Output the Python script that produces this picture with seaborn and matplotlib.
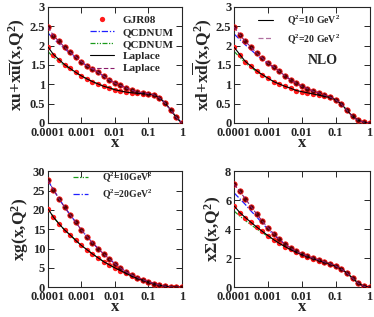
import numpy as np
import pandas as pd
import seaborn as sns
import matplotlib
matplotlib.use("Agg")
import matplotlib.pyplot as plt
from matplotlib.lines import Line2D
from matplotlib.ticker import FixedLocator, FixedFormatter, LogLocator, NullFormatter

# x grid of the GJR08 points
xs = [1.0e-4, 1.47e-4, 2.15e-4, 3.16e-4, 4.64e-4, 6.81e-4,
      1.0e-3, 1.47e-3, 2.15e-3, 3.16e-3, 4.64e-3, 6.81e-3,
      1.0e-2, 1.47e-2, 2.15e-2, 3.16e-2, 4.64e-2, 6.81e-2,
      0.1, 0.147, 0.215, 0.316, 0.464, 0.681, 1.0]

# xu + xubar
xu_10 = [1.97, 1.77, 1.64, 1.51, 1.41, 1.31, 1.22, 1.14, 1.07, 1.01, 0.95, 0.91, 0.86,
         0.83, 0.80, 0.78, 0.77, 0.76, 0.75, 0.73, 0.65, 0.52, 0.34, 0.15, 0.0]
xu_20 = [2.48, 2.26, 2.11, 1.96, 1.83, 1.71, 1.59, 1.48, 1.40, 1.31, 1.21, 1.12, 1.03,
         0.97, 0.91, 0.85, 0.80, 0.78, 0.76, 0.73, 0.65, 0.52, 0.34, 0.15, 0.0]
xu_10_qcd = [1.85, 1.70, 1.59, 1.48, 1.39, 1.30, 1.21, 1.14, 1.07, 1.01, 0.95, 0.91, 0.86,
             0.83, 0.80, 0.78, 0.77, 0.76, 0.75, 0.73, 0.65, 0.52, 0.34, 0.15, 0.0]
xu_20_qcd = [2.33, 2.18, 2.05, 1.92, 1.80, 1.69, 1.58, 1.48, 1.39, 1.31, 1.21, 1.12, 1.03,
             0.97, 0.91, 0.85, 0.80, 0.78, 0.76, 0.73, 0.65, 0.52, 0.34, 0.15, 0.0]

# xd + xdbar
xd_10 = [1.96, 1.77, 1.59, 1.47, 1.35, 1.25, 1.16, 1.07, 1.01, 0.95, 0.90, 0.84, 0.81,
         0.78, 0.75, 0.72, 0.69, 0.66, 0.60, 0.49, 0.33, 0.17, 0.07, 0.02, 0.0]
xd_20 = [2.48, 2.28, 2.11, 1.96, 1.81, 1.68, 1.55, 1.45, 1.34, 1.22, 1.12, 1.03, 0.95,
         0.89, 0.82, 0.78, 0.72, 0.67, 0.60, 0.49, 0.33, 0.17, 0.07, 0.02, 0.0]
xd_10_qcd = [1.85, 1.70, 1.55, 1.44, 1.33, 1.24, 1.16, 1.07, 1.01, 0.95, 0.90, 0.84, 0.81,
             0.78, 0.75, 0.72, 0.69, 0.66, 0.60, 0.49, 0.33, 0.17, 0.07, 0.02, 0.0]
xd_20_qcd = [2.30, 2.16, 2.02, 1.89, 1.76, 1.64, 1.53, 1.44, 1.34, 1.22, 1.12, 1.03, 0.95,
             0.89, 0.82, 0.78, 0.72, 0.67, 0.60, 0.49, 0.33, 0.17, 0.07, 0.02, 0.0]

# xg
xg_10 = [20.3, 18.1, 16.4, 14.8, 13.5, 12.1, 10.8, 9.7, 8.6, 7.6, 6.6, 5.8, 5.0,
         4.3, 3.6, 2.9, 2.3, 1.8, 1.3, 0.86, 0.5, 0.26, 0.09, 0.02, 0.0]
xg_20 = [27.6, 25.2, 22.9, 20.7, 18.7, 16.8, 14.8, 13.1, 11.5, 10.0, 8.6, 7.3, 6.1,
         5.0, 4.0, 3.2, 2.5, 1.95, 1.4, 0.95, 0.55, 0.27, 0.09, 0.02, 0.0]

# x Sigma
xs_10 = [5.6, 5.15, 4.8, 4.47, 4.15, 3.85, 3.56, 3.28, 3.03, 2.8, 2.6, 2.42, 2.25,
         2.1, 1.96, 1.84, 1.72, 1.6, 1.44, 1.25, 0.98, 0.62, 0.28, 0.06, 0.0]
xs_20 = [7.1, 6.6, 6.1, 5.55, 5.05, 4.55, 4.1, 3.7, 3.3, 2.97, 2.7, 2.47, 2.3,
         2.14, 2.0, 1.88, 1.75, 1.62, 1.46, 1.25, 0.98, 0.62, 0.28, 0.06, 0.0]
xs_10_qcd = [5.25, 4.9, 4.6, 4.3, 4.03, 3.77, 3.5, 3.25, 3.03, 2.8, 2.6, 2.42, 2.25,
             2.1, 1.96, 1.84, 1.72, 1.6, 1.44, 1.25, 0.98, 0.62, 0.28, 0.06, 0.0]
xs_20_qcd = [6.5, 6.1, 5.7, 5.25, 4.85, 4.4, 4.0, 3.63, 3.27, 2.97, 2.7, 2.47, 2.3,
             2.14, 2.0, 1.88, 1.75, 1.62, 1.46, 1.25, 0.98, 0.62, 0.28, 0.06, 0.0]

xticks = [1e-4, 1e-3, 1e-2, 1e-1, 1]
xtick_labels = ["0.0001", "0.001", "0.01", "0.1", "1"]

sns.set_style("ticks")
plt.rcParams["font.family"] = ["Liberation Serif", "DejaVu Serif"]
plt.rcParams["font.weight"] = "bold"
plt.rcParams["mathtext.fontset"] = "custom"
plt.rcParams["mathtext.rm"] = "Liberation Serif:bold"
plt.rcParams["mathtext.it"] = "Liberation Serif:bold"
plt.rcParams["mathtext.bf"] = "Liberation Serif:bold"

BLUE = "#1f1fff"
GREEN = "#1a9a1a"
PURPLE = "#8a1a6a"
RED = "#ff1a1a"
DASHDOT = (0, (5, 1.5, 1, 1.5))
DASHDOTDOT = (0, (4, 1.2, 1, 1.2, 1, 1.2))
DASHED = (0, (4, 2))

fig = plt.figure(figsize=(3.74, 3.17), dpi=100)
pos = {
    "tl": [0.128, 0.612, 0.358, 0.366],
    "tr": [0.626, 0.612, 0.362, 0.366],
    "bl": [0.128, 0.094, 0.358, 0.366],
    "br": [0.626, 0.094, 0.362, 0.366],
}

panels = [
    ("tl", xu_10, xu_20, xu_10_qcd, xu_20_qcd, 3, 0.5, r"$\mathrm{xu{+}x\overline{u}(x{,}Q^2)}$"),
    ("tr", xd_10, xd_20, xd_10_qcd, xd_20_qcd, 3, 0.5, r"$\mathrm{xd{+}x\overline{d}(x{,}Q^2)}$"),
    ("bl", xg_10, xg_20, xg_10, xg_20, 30, 5, r"$\mathrm{xg(x{,}Q^2)}$"),
    ("br", xs_10, xs_20, xs_10_qcd, xs_20_qcd, 8, 2, r"$\mathrm{x\Sigma(x{,}Q^2)}$"),
]

axes = {}
for key, lo, hi, lo_q, hi_q, ymax, ystep, ylab in panels:
    ax = fig.add_axes(pos[key])
    axes[key] = ax
    df = pd.DataFrame({"x": xs, "lo": lo, "hi": hi, "lo_q": lo_q, "hi_q": hi_q})

    sns.lineplot(data=df, x="x", y="hi_q", ax=ax, color=BLUE, lw=0.9, linestyle=DASHDOT)
    sns.lineplot(data=df, x="x", y="lo_q", ax=ax, color=GREEN, lw=0.9, linestyle=DASHDOTDOT)
    sns.scatterplot(data=df, x="x", y="lo", ax=ax, color=RED, s=15, linewidth=0, zorder=3)
    sns.scatterplot(data=df, x="x", y="hi", ax=ax, color="#5a0000", edgecolor=RED,
                    s=15, linewidth=0.6, zorder=3)
    sns.lineplot(data=df, x="x", y="lo", ax=ax, color="black", lw=0.8, zorder=4)
    sns.lineplot(data=df, x="x", y="hi", ax=ax, color=PURPLE, lw=0.8, linestyle=DASHED, zorder=4)

    ax.set_xscale("log")
    ax.set_xlim(1e-4, 1)
    ax.set_ylim(0, ymax)
    ax.xaxis.set_major_locator(FixedLocator(xticks))
    ax.xaxis.set_major_formatter(FixedFormatter(xtick_labels))
    ax.xaxis.set_minor_locator(LogLocator(base=10, subs=np.arange(2, 10)))
    ax.xaxis.set_minor_formatter(NullFormatter())
    yt = np.arange(0, ymax + ystep / 2, ystep)
    ax.set_yticks(yt)
    ax.set_yticklabels([("%g" % v) for v in yt])
    ax.tick_params(which="both", direction="in", top=True, right=True, labelsize=9,
                   width=0.7)
    ax.tick_params(axis="x", pad=3)
    ax.tick_params(axis="y", pad=2)
    ax.tick_params(which="major", length=4)
    ax.tick_params(which="minor", length=2)
    for lab in ax.get_xticklabels() + ax.get_yticklabels():
        lab.set_fontweight("bold")
    for sp in ax.spines.values():
        sp.set_linewidth(0.8)
    ax.set_xlabel("x", fontsize=12, fontweight="bold", labelpad=-3)
    ax.set_ylabel(ylab, fontsize=12.5, labelpad=1)
    if ax.get_legend() is not None:
        ax.get_legend().remove()

# legends
h_tl = [
    Line2D([], [], marker="o", color=RED, ls="none", markersize=3.8, markeredgewidth=0),
    Line2D([], [], color=BLUE, lw=0.9, ls=DASHDOT),
    Line2D([], [], color=GREEN, lw=0.9, ls=DASHDOTDOT),
    Line2D([], [], color="black", lw=0.8),
    Line2D([], [], color=PURPLE, lw=0.8, ls=DASHED),
]
axes["tl"].legend(h_tl, ["GJR08", "QCDNUM", "QCDNUM", "Laplace", "Laplace"],
                  loc="upper right", frameon=False, fontsize=8, handlelength=2.2,
                  labelspacing=0.22, borderaxespad=0.3, handletextpad=0.8)

h_tr = [Line2D([], [], color="black", lw=0.8),
        Line2D([], [], color="#b070a0", lw=0.9, ls=DASHED)]
axes["tr"].legend(h_tr, [r"Q$^2$=10 GeV$^2$", r"Q$^2$=20 GeV$^2$"],
                  loc="upper left", bbox_to_anchor=(0.15, 0.98), borderaxespad=0,
                  frameon=False, fontsize=7, handlelength=1.5,
                  labelspacing=0.45, handletextpad=1.5)
axes["tr"].text(0.655, 0.54, "NLO", transform=axes["tr"].transAxes, fontsize=10,
                fontweight="bold", ha="center", va="center")

h_bl = [Line2D([], [], color=GREEN, lw=0.9, ls=DASHDOTDOT),
        Line2D([], [], color=BLUE, lw=0.9, ls=DASHDOT)]
axes["bl"].legend(h_bl, [r"Q$^2$=10GeV$^2$", r"Q$^2$=20GeV$^2$"],
                  loc="upper left", bbox_to_anchor=(0.16, 1.04), borderaxespad=0,
                  frameon=False, fontsize=7, handlelength=1.5,
                  labelspacing=0.3, handletextpad=1.5)

fig.savefig("out.png", dpi=100)
